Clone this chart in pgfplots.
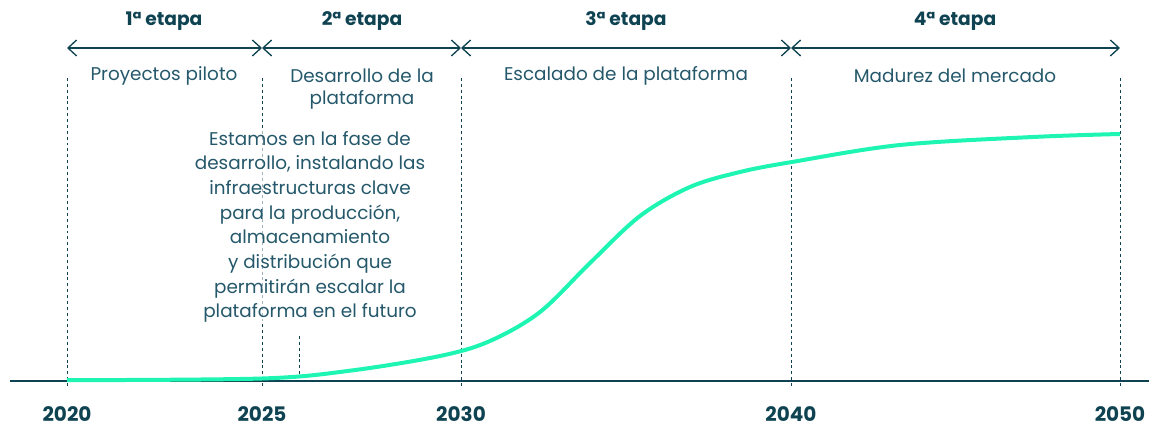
\documentclass[border=0pt]{standalone}
\usepackage{pgfplots}
\pgfplotsset{compat=1.18}
\usetikzlibrary{arrows.meta}
\usepackage{fontspec}
\setmainfont{Poppins}
\definecolor{ink}{HTML}{0F4352}
\definecolor{txt}{HTML}{24586A}
\definecolor{mint}{HTML}{1EF5B2}

\begin{document}
\begin{tikzpicture}
\begin{axis}[
  width=861.75pt, height=320.25pt, scale only axis,
  xmin=0, xmax=1149, ymin=-46, ymax=381,
  hide axis, clip=false,
]
% baseline
\draw[ink, line width=1pt] (axis cs:10,0) -- (axis cs:1149,0);
% dashed stage separators
\foreach \xx in {67,262,461,791,1120} {
  \edef\temp{\noexpand\draw[ink, line width=0.75pt, dash pattern=on 2.2pt off 2.2pt] (axis cs:\xx,303) -- (axis cs:\xx,-6);}
  \temp
}
\draw[ink, line width=0.75pt, dash pattern=on 2.2pt off 2.2pt] (axis cs:299,45) -- (axis cs:299,5);
% curve
\addplot[mint, line width=3pt, smooth, tension=0.55] coordinates {
  (67,0.8) (262,2.5) (350,10.3) (440,25) (490,40) (540,69) (590,118)
  (640,165) (690,194) (740,209) (792,219) (900,236) (1033,244) (1120,247)
};
% arrows
\foreach \a/\b in {67/262,262/461,461/791,791/1120} {
  \edef\temp{\noexpand\draw[ink, line width=1pt, {Straight Barb[length=6.5pt,width=12pt]}-{Straight Barb[length=6.5pt,width=12pt]}] (axis cs:\a,333) -- (axis cs:\b,333);}
  \temp
}
% stage titles
\begin{scope}[every node/.style={text=ink, font=\fontsize{14pt}{17pt}\selectfont\bfseries}]
\node at (axis cs:164,360) {1ª etapa};
\node at (axis cs:362,360) {2ª etapa};
\node at (axis cs:626,360) {3ª etapa};
\node at (axis cs:955,360) {4ª etapa};
\end{scope}
% descriptions
\begin{scope}[every node/.style={text=txt, font=\fontsize{13.8pt}{17pt}\selectfont}]
\node at (axis cs:164,305) {Proyectos piloto};
\node[fill=white, fill opacity=0.6, text opacity=1, inner sep=0pt] at (axis cs:362,305) {Desarrollo de la};
\node[fill=white, fill opacity=0.6, text opacity=1, inner sep=0pt] at (axis cs:362,281) {plataforma};
\node at (axis cs:626,305) {Escalado de la plataforma};
\node at (axis cs:955,305) {Madurez del mercado};
\end{scope}
\node[text=txt, align=center, font=\fontsize{13.8pt}{18.5pt}\selectfont,
      fill=white, fill opacity=0.6, text opacity=1, inner sep=0pt, anchor=center]
  at (axis cs:310,154) {Estamos en la fase de\\desarrollo, instalando las\\infraestructuras clave\\para la producción,\\almacenamiento\\y distribución que\\permitirán escalar la\\plataforma en el futuro};
% years
\begin{scope}[every node/.style={text=ink, inner sep=0pt, font=\fontsize{15pt}{17pt}\selectfont\bfseries}]
\node at (axis cs:67,-33) {2020};
\node at (axis cs:262,-33) {2025};
\node at (axis cs:461,-33) {2030};
\node at (axis cs:791,-33) {2040};
\node at (axis cs:1120,-33) {2050};
\end{scope}
\end{axis}
\pgfresetboundingbox
\path[use as bounding box] (current axis.south west) rectangle (current axis.north east);
\end{tikzpicture}
\end{document}
